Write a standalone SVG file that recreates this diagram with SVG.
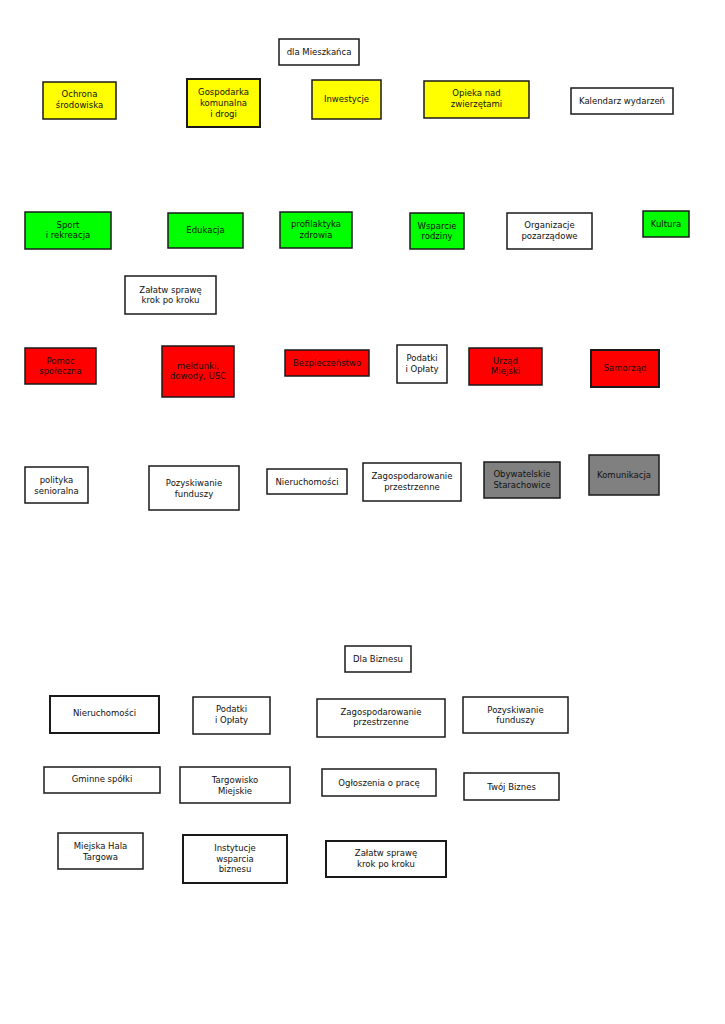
<svg xmlns="http://www.w3.org/2000/svg" width="725" height="1024" viewBox="0 0 725 1024">
<style>
rect{stroke:#1a1a1a;stroke-width:1.5}
.w{fill:#fff}.y{fill:#ffff00}.g{fill:#00ff00}.r{fill:#ff0000}.s{fill:#808080}
.t2{stroke-width:2}
text{font-family:"DejaVu Sans",sans-serif;font-size:8.5px;fill:#111;text-anchor:middle}
</style>
<rect width="725" height="1024" fill="#fff" style="stroke:none"/>
<g id="connectors"/>
<g id="n-dla-mieszkanca"><rect class="w" x="279" y="39" width="80" height="26"/><text x="319" y="55">dla Mieszkańca</text></g>
<g id="n-ochrona"><rect class="y" x="43" y="82" width="73" height="37"/><text x="79.5" y="97">Ochrona</text><text x="79.5" y="108">środowiska</text></g>
<g id="n-gospodarka"><rect class="y t2" x="187" y="79" width="73" height="48"/><text x="223.5" y="95">Gospodarka</text><text x="223.5" y="106">komunalna</text><text x="223.5" y="117">i drogi</text></g>
<g id="n-inwestycje"><rect class="y" x="312" y="80" width="69" height="39"/><text x="346.5" y="102">Inwestycje</text></g>
<g id="n-opieka"><rect class="y" x="424" y="81" width="105" height="37"/><text x="476.5" y="96">Opieka nad</text><text x="476.5" y="107">zwierzętami</text></g>
<g id="n-kalendarz"><rect class="w" x="571" y="88" width="102" height="26"/><text x="622" y="104">Kalendarz wydarzeń</text></g>

<g id="n-sport"><rect class="g" x="25" y="212" width="86" height="37"/><text x="68" y="228">Sport</text><text x="68" y="238">i rekreacja</text></g>
<g id="n-edukacja"><rect class="g" x="168" y="213" width="75" height="35"/><text x="205.5" y="233">Edukacja</text></g>
<g id="n-profilaktyka"><rect class="g" x="280" y="212" width="72" height="36"/><text x="316" y="227">profilaktyka</text><text x="316" y="238">zdrowia</text></g>
<g id="n-wsparcie"><rect class="g" x="410" y="213" width="54" height="36"/><text x="437" y="229">Wsparcie</text><text x="437" y="239">rodziny</text></g>
<g id="n-organizacje"><rect class="w" x="507" y="213" width="85" height="36"/><text x="549.5" y="228">Organizacje</text><text x="549.5" y="239">pozarządowe</text></g>
<g id="n-kultura"><rect class="g" x="643" y="211" width="46" height="26"/><text x="666" y="227">Kultura</text></g>
<g id="n-zalatw1"><rect class="w" x="125" y="276" width="91" height="38"/><text x="170.5" y="293">Załatw sprawę</text><text x="170.5" y="303">krok po kroku</text></g>

<g id="n-pomoc"><rect class="r" x="25" y="348" width="71" height="36"/><text x="60.5" y="364">Pomoc</text><text x="60.5" y="374">społeczna</text></g>
<g id="n-meldunki"><rect class="r" x="162" y="346" width="72" height="51"/><text x="198" y="369">meldunki,</text><text x="198" y="379">dowody, USC</text></g>
<g id="n-bezpieczenstwo"><rect class="r" x="285" y="350" width="84" height="26"/><text x="327" y="366">Bezpieczeństwo</text></g>
<g id="n-podatki1"><rect class="w" x="397" y="345" width="50" height="38"/><text x="422" y="361">Podatki</text><text x="422" y="372">i Opłaty</text></g>
<g id="n-urzad"><rect class="r" x="469" y="348" width="73" height="37"/><text x="505.5" y="364">Urząd</text><text x="505.5" y="374">Miejski</text></g>
<g id="n-samorzad"><rect class="r t2" x="591" y="350" width="68" height="37"/><text x="625" y="371">Samorząd</text></g>

<g id="n-polityka"><rect class="w" x="25" y="467" width="63" height="36"/><text x="56.5" y="483">polityka</text><text x="56.5" y="494">senioralna</text></g>
<g id="n-pozyskiwanie1"><rect class="w" x="149" y="466" width="90" height="44"/><text x="194" y="486">Pozyskiwanie</text><text x="194" y="497">funduszy</text></g>
<g id="n-nieruchomosci1"><rect class="w" x="267" y="469" width="80" height="25"/><text x="307" y="485">Nieruchomości</text></g>
<g id="n-zagospodarowanie1"><rect class="w" x="363" y="463" width="98" height="38"/><text x="412" y="479">Zagospodarowanie</text><text x="412" y="490">przestrzenne</text></g>
<g id="n-obywatelskie"><rect class="s" x="484" y="462" width="76" height="36"/><text x="522" y="477">Obywatelskie</text><text x="522" y="488">Starachowice</text></g>
<g id="n-komunikacja"><rect class="s" x="589" y="455" width="70" height="40"/><text x="624" y="478">Komunikacja</text></g>

<g id="n-dla-biznesu"><rect class="w" x="345" y="646" width="66" height="26"/><text x="378" y="662">Dla Biznesu</text></g>
<g id="n-nieruchomosci2"><rect class="w t2" x="50" y="696" width="109" height="37"/><text x="104.5" y="716">Nieruchomości</text></g>
<g id="n-podatki2"><rect class="w" x="193" y="697" width="77" height="37"/><text x="231.5" y="712">Podatki</text><text x="231.5" y="723">i Opłaty</text></g>
<g id="n-zagospodarowanie2"><rect class="w" x="317" y="699" width="128" height="38"/><text x="381" y="715">Zagospodarowanie</text><text x="381" y="725">przestrzenne</text></g>
<g id="n-pozyskiwanie2"><rect class="w" x="463" y="697" width="105" height="36"/><text x="515.5" y="713">Pozyskiwanie</text><text x="515.5" y="723">funduszy</text></g>

<g id="n-gminne"><rect class="w" x="44" y="767" width="116" height="26"/><text x="102" y="782">Gminne spółki</text></g>
<g id="n-targowisko"><rect class="w" x="180" y="767" width="110" height="36"/><text x="235" y="783">Targowisko</text><text x="235" y="794">Miejskie</text></g>
<g id="n-ogloszenia"><rect class="w" x="322" y="769" width="114" height="27"/><text x="379" y="786">Ogłoszenia o pracę</text></g>
<g id="n-twoj-biznes"><rect class="w" x="464" y="773" width="95" height="27"/><text x="511.5" y="790">Twój Biznes</text></g>
<g id="n-hala"><rect class="w" x="58" y="833" width="85" height="36"/><text x="100.5" y="849">Miejska Hala</text><text x="100.5" y="860">Targowa</text></g>
<g id="n-instytucje"><rect class="w t2" x="183" y="835" width="104" height="48"/><text x="235" y="851">Instytucje</text><text x="235" y="862">wsparcia</text><text x="235" y="872">biznesu</text></g>
<g id="n-zalatw2"><rect class="w t2" x="326" y="841" width="120" height="36"/><text x="386" y="856">Załatw sprawę</text><text x="386" y="867">krok po kroku</text></g>
</svg>
